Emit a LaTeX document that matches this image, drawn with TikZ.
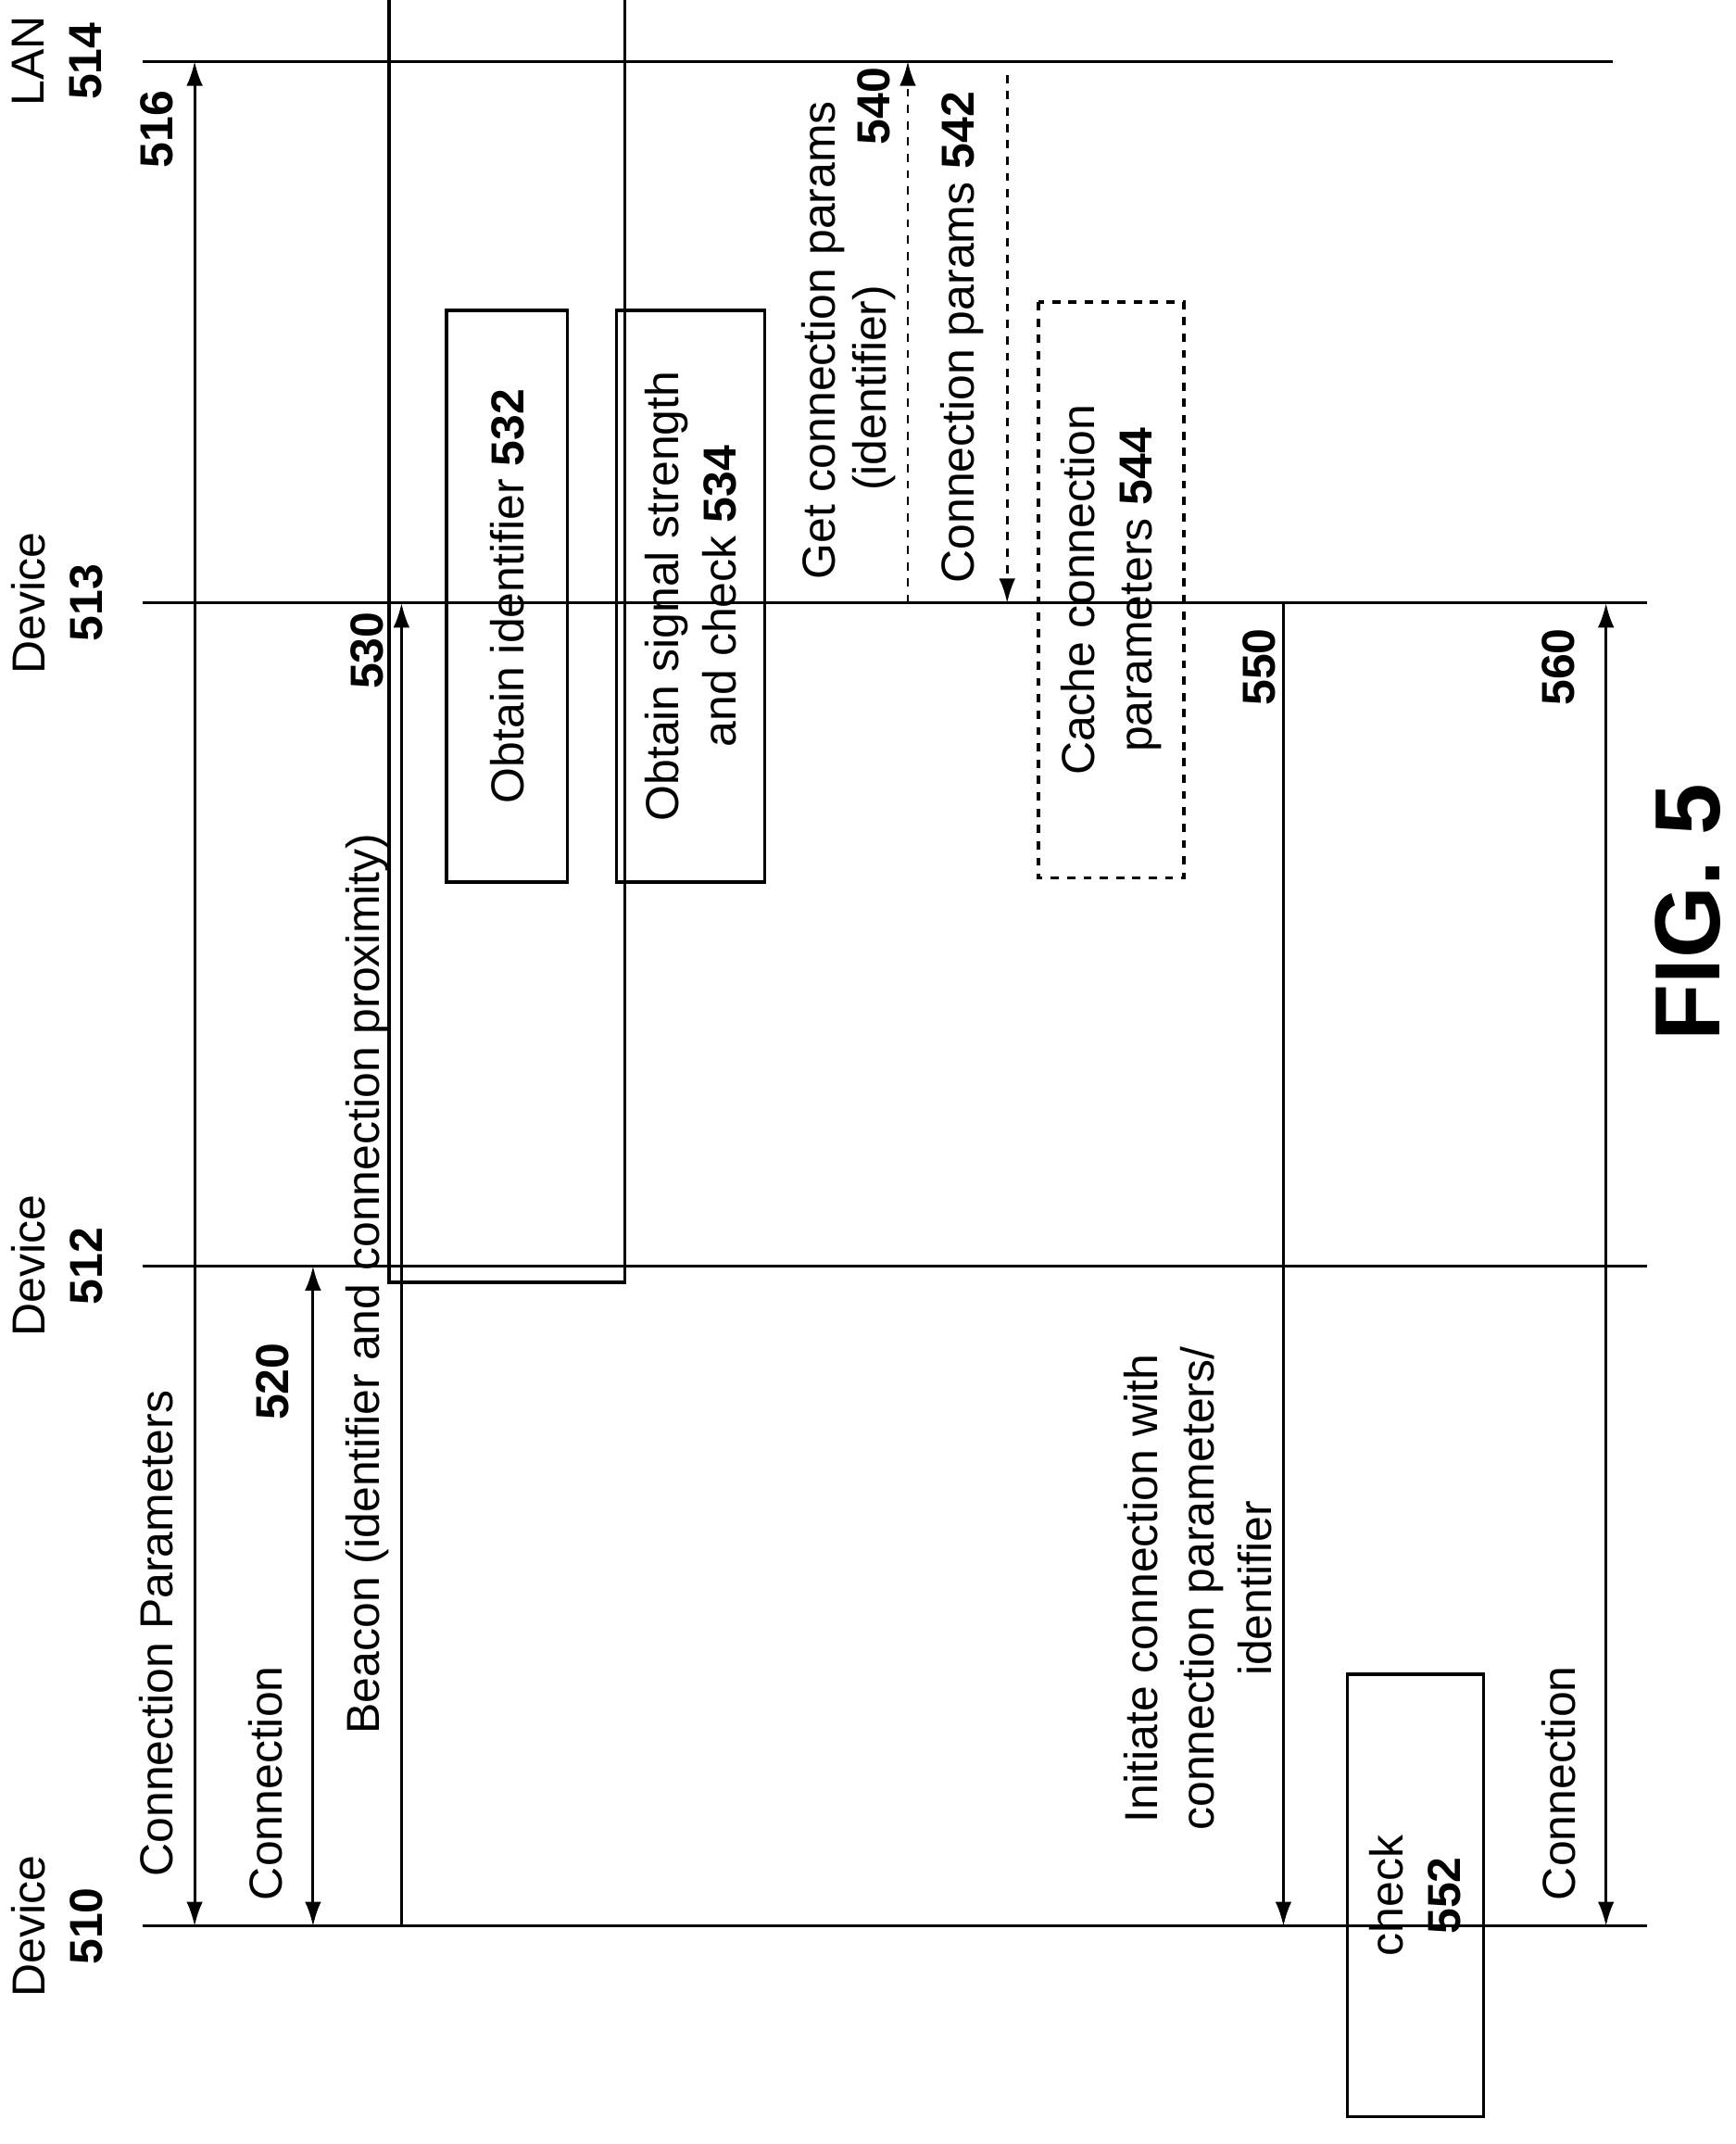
\documentclass[tikz,border=0pt]{standalone}
\usepackage{fontspec}
\setmainfont{Liberation Sans}
\usetikzlibrary{arrows.meta}
\begin{document}
\begin{tikzpicture}[
    x=0.5pt, y=-0.5pt,
    line width=1pt,
    >={Latex[length=9pt,width=6pt]},
    box/.style={%
      draw,
      rectangle,
      line width=1.2pt,
      rotate=90,
      align=center,
      font=\fontsize{17}{21}\selectfont,
    },
    lbl/.style={%
      rotate=90,
      align=center,
      font=\fontsize{17}{21}\selectfont,
    },
    num/.style={%
      rotate=90,
      font=\fontsize{17}{21}\selectfont\bfseries,
    },
  ]
    \useasboundingbox (0,0) rectangle (1275,1575);

    % lifelines
    \coordinate (L0) at (105,45);   \coordinate (L1) at (1185,45);
    \coordinate (A0) at (105,443);  \coordinate (A1) at (1210,443);
    \coordinate (B0) at (105,930);  \coordinate (B1) at (1210,930);
    \coordinate (C0) at (105,1415); \coordinate (C1) at (1210,1415);
    \draw (L0) -- (L1);
    \draw (A0) -- (A1);
    \draw (B0) -- (B1);
    \draw (C0) -- (C1);

    \node [lbl] (lan) at (42,45) {LAN\\\textbf{514}};
    \node [lbl] (d513) at (42,443) {Device\\\textbf{513}};
    \node [lbl] (d512) at (42,930) {Device\\\textbf{512}};
    \node [lbl] (d510) at (42,1415) {Device\\\textbf{510}};

    % messages
    \coordinate (m516a) at (143,1415); \coordinate (m516b) at (143,45);
    \draw [<->] (m516a) -- (m516b);
    \node [lbl] (t516) at (115,1200) {Connection Parameters};
    \node [num] (n516) at (115,95) {516};

    \coordinate (m520a) at (230,1415); \coordinate (m520b) at (230,930);
    \draw [<->] (m520a) -- (m520b);
    \node [lbl] (t520) at (195,1310) {Connection};
    \node [num] (n520) at (200,1015) {520};

    \coordinate (m530a) at (295,1415); \coordinate (m530b) at (295,443);
    \draw [->] (m530a) -- (m530b);
    \node [lbl] (t530) at (270,943) {Beacon (identifier and connection proximity)};
    \node [num] (n530) at (270,478) {530};

    \node [box, minimum width=420\pgflinewidth, minimum height=0pt] (b532) at (372.5,438)
      {\parbox[c][80pt][c]{0pt}{}};
    \node [box, minimum width=210pt, minimum height=44.5pt] (b532) at (372.5,438)
      {Obtain identifier \textbf{532}};
    \node [box, minimum width=210pt, minimum height=54.5pt] (b534) at (507.5,438)
      {Obtain signal strength\\and check \textbf{534}};

    \coordinate (m540a) at (667,443); \coordinate (m540b) at (667,45);
    \draw [->, dashed] (m540a) -- (m540b);
    \node [lbl] (t540a) at (605,250) {Get connection params};
    \node [lbl] (t540b) at (642,285) {(identifier)};
    \node [num] (n540) at (642,78) {540};

    \coordinate (m542a) at (740,55); \coordinate (m542b) at (740,443);
    \draw [->, dashed] (m542a) -- (m542b);
    \node [lbl] (t542) at (707,248) {Connection params \textbf{542}};

    \node [box, dashed, minimum width=211.5pt, minimum height=53.5pt] (b544) at (816.5,433.5)
      {Cache connection\\parameters \textbf{544}};

    \coordinate (m550a) at (943,443); \coordinate (m550b) at (943,1415);
    \draw [->] (m550a) -- (m550b);
    \node [num] (n550) at (925,490) {550};
    \node [lbl] (t550) at (880,1167) {Initiate connection with\\connection parameters/\\identifier};

    \node [box, minimum width=162.5pt, minimum height=50pt] (b552) at (1040,1392.5)
      {check\\\textbf{552}};

    \coordinate (m560a) at (1180,1415); \coordinate (m560b) at (1180,443);
    \draw [<->] (m560a) -- (m560b);
    \node [lbl] (t560) at (1145,1310) {Connection};
    \node [num] (n560) at (1145,490) {560};

    \node [rotate=90, font=\fontsize{34}{40}\selectfont\bfseries] (fig) at (1240,670) {FIG. 5};
\end{tikzpicture}
\end{document}
